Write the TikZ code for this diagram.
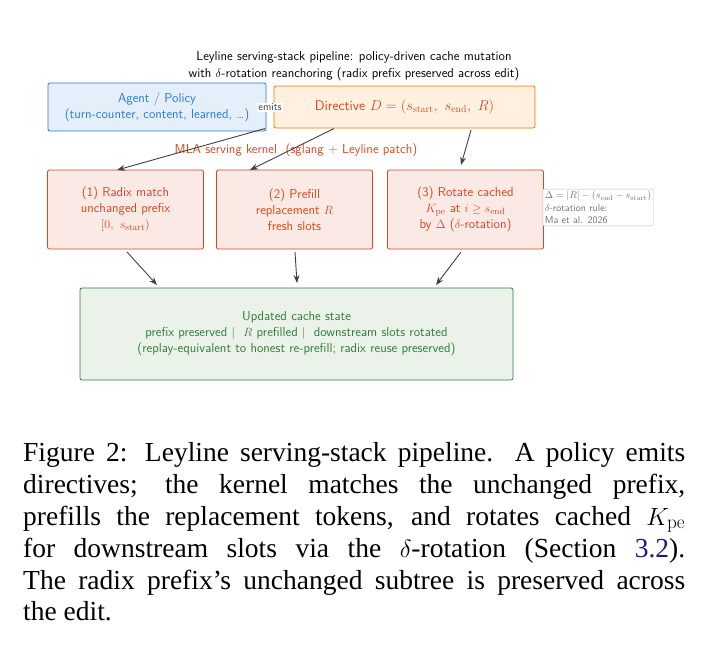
\documentclass[tikz,border=0pt]{standalone}
\usepackage{fontspec}
\usepackage{amsmath,amssymb}
\newfontfamily\capfont{Liberation Serif}
\usetikzlibrary{arrows.meta}
\definecolor{ored}{HTML}{D9481C}
\definecolor{bblue}{HTML}{2A7BD0}
\definecolor{gg}{HTML}{2E7D32}
\definecolor{linkblue}{HTML}{1A1A8C}
\begin{document}
\begin{tikzpicture}[x=1pt,y=-1pt,
  box/.style={draw, rounded corners=2pt, line width=0.8pt, align=center, inner sep=2pt, font=\sffamily\fontsize{13}{16}\selectfont},
  arr/.style={-{Stealth[length=8pt,width=6pt]}, line width=0.9pt, draw=black!75},
  capline/.style={anchor=base west, inner sep=0, font=\capfont\fontsize{27.5}{30}\selectfont}]
\useasboundingbox (0,0) rectangle (708,670);
\node[font=\sffamily\fontsize{13}{17}\selectfont, align=center] (title) at (354,66) {Leyline serving-stack pipeline: policy-driven cache mutation\\with $\delta$-rotation reanchoring (radix prefix preserved across edit)};
\node[box, draw=bblue, fill=bblue!12, text=bblue, minimum width=218pt, minimum height=48pt] (agent) at (157,107) {Agent / Policy\\(turn-counter, content, learned, \dots)};
\node[box, draw=orange!90!red, fill=orange!12, text=ored, minimum width=261pt, minimum height=42pt, font=\sffamily\fontsize{14}{16}\selectfont] (dir) at (404.5,107) {Directive $D=(s_{\mathrm{start}},\ s_{\mathrm{end}},\ R)$};
\node[fill=white, inner sep=1pt, font=\sffamily\fontsize{10.5}{11}\selectfont, text=black!75] (emits) at (270,107) {emits};
\node[font=\sffamily\fontsize{13}{14}\selectfont, text=ored] (kern) at (296,150) {MLA serving kernel\ \ (sglang + Leyline patch)};
\foreach \n/\x/\t in {b1/125.5/{(1) Radix match\\unchanged prefix\\$[0,\ s_{\mathrm{start}})$},
                     b2/294.5/{(2) Prefill\\replacement $R$\\fresh slots},
                     b3/465.5/{(3) Rotate cached\\$K_{\mathrm{pe}}$ at $i\ge s_{\mathrm{end}}$\\by $\Delta$ ($\delta$-rotation)}}
  \node[box, draw=ored, fill=ored!12, text=ored, minimum width=156pt, minimum height=79pt] (\n) at (\x,209.5) {\t};
\node[draw=black!25, fill=white, rounded corners=1pt, align=left, inner sep=2pt, text=black!55, font=\sffamily\fontsize{10}{12.5}\selectfont] (note) at (598,207.5) {$\Delta=|R|-(s_{\mathrm{end}}-s_{\mathrm{start}})$\\$\delta$-rotation rule:\\Ma et al. 2026};
\node[box, draw=gg, fill=gg!10, text=gg, minimum width=433pt, minimum height=92pt] (res) at (296.5,334) {Updated cache state\\prefix preserved $|$\ \ $R$ prefilled $|$\ \ downstream slots rotated\\(replay-equivalent to honest re-prefill; radix reuse preserved)};
\coordinate (d1) at (265,128.5); \coordinate (d2) at (334,128.5); \coordinate (d3) at (471,130);
\draw[arr] (d1) -- (117,170);
\draw[arr] (d2) -- (250,170);
\draw[arr] (d3) -- (461,165);
\draw[arr] (127,252) -- (157,285);
\draw[arr] (295,252) -- (297,283);
\draw[arr] (461,252) -- (436,285);
\node[capline] (c1) at (23,461) {\makebox[662pt][s]{Figure 2: Leyline serving-stack pipeline. A policy emits}};
\node[capline] (c2) at (23,493) {\makebox[662pt][s]{directives; the kernel matches the unchanged prefix,}};
\node[capline] (c3) at (23,525) {\makebox[662pt][s]{prefills the replacement tokens, and rotates cached $K_{\mathrm{pe}}$}};
\node[capline] (c4) at (23,557) {\makebox[662pt][s]{for downstream slots via the $\delta$-rotation (Section \textcolor{linkblue}{3.2}).}};
\node[capline] (c5) at (23,589) {\makebox[662pt][s]{The radix prefix’s unchanged subtree is preserved across}};
\node[capline] (c6) at (23,620) {the edit.};
\end{tikzpicture}
\end{document}
